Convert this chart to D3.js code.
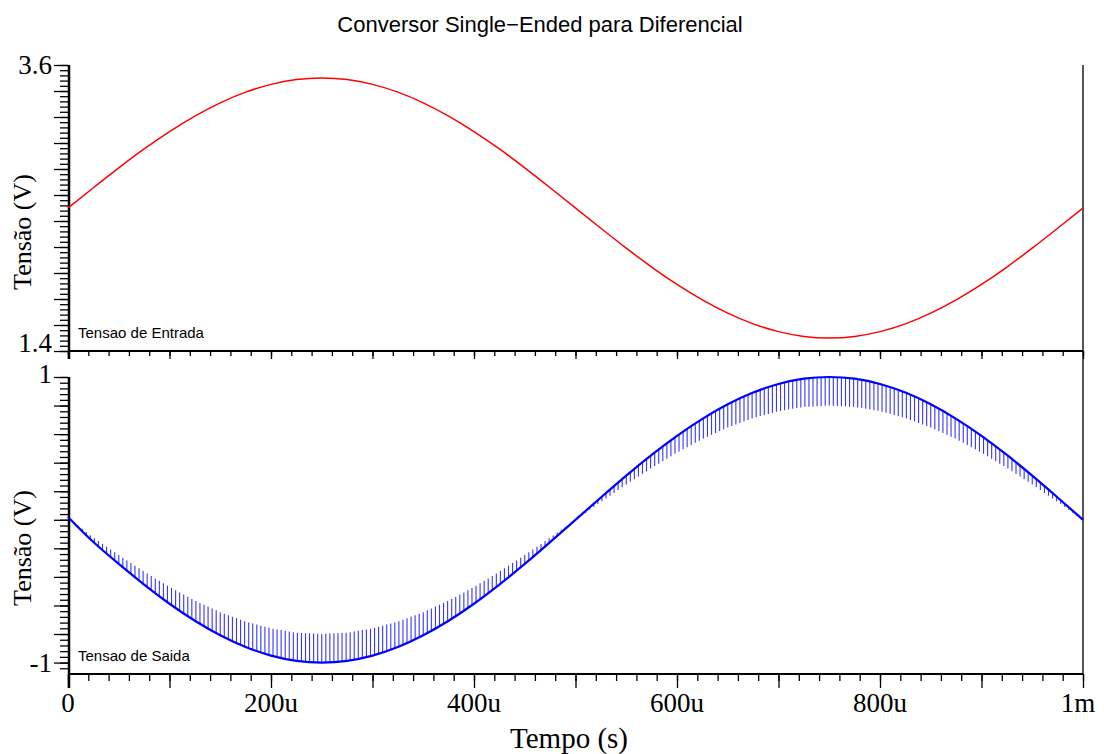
<!DOCTYPE html>
<html>
<head>
<meta charset="utf-8">
<script src="https://cdn.jsdelivr.net/npm/d3@7"></script>
<style>
  html, body { margin: 0; padding: 0; background: #fff; }
  svg { display: block; }
</style>
</head>
<body>
<svg id="chart" width="1104" height="754"></svg>
<script>
// ---- data ----
const timeUs = [0,25,50,75,100,125,150,175,200,225,250,275,300,325,350,375,400,425,450,475,500,
                525,550,575,600,625,650,675,700,725,750,775,800,825,850,875,900,925,950,975,1000];
const inputVoltage = [2.500,2.656,2.809,2.954,3.088,3.207,3.309,3.391,3.451,3.488,3.500,3.488,3.451,3.391,3.309,3.207,3.088,2.954,2.809,2.656,2.500,
                      2.344,2.191,2.046,1.912,1.793,1.691,1.609,1.549,1.512,1.500,1.512,1.549,1.609,1.691,1.793,1.912,2.046,2.191,2.344,2.500];
const outputVoltage = [0.020,-0.156,-0.309,-0.454,-0.588,-0.707,-0.809,-0.891,-0.951,-0.988,-1.000,-0.988,-0.951,-0.891,-0.809,-0.707,-0.588,-0.454,-0.309,-0.156,0.000,
                       0.156,0.309,0.454,0.588,0.707,0.809,0.891,0.951,0.988,1.000,0.988,0.951,0.891,0.809,0.707,0.588,0.454,0.309,0.156,0.000];
const spikePeriodUs = 4;     // spacing of the switching glitches on the output
const spikeDepth = 0.2;      // glitch pulls output toward 0 by this fraction
const xTickValues = [0,200,400,600,800,1000];
const xTickLabels = ["0","200u","400u","600u","800u","1m"];
const topTickValues = [1.4,3.6];
const topTickLabels = ["1.4","3.6"];
const bottomTickValues = [-1,1];
const bottomTickLabels = ["-1","1"];
const titleText = "Conversor Single\u2212Ended para Diferencial";
const yLabel = "Tens\u00e3o (V)";
const xLabel = "Tempo (s)";
const topLegend = "Tensao de Entrada";
const bottomLegend = "Tensao de Saida";

// ---- layout ----
const svg = d3.select("#chart");
const x0 = 68, x1 = 1083;
const topY0 = 65, topY1 = 351;
const botY0 = 377, botY1 = 674;
const serif = "'Liberation Serif','Times New Roman',serif";
const sans = "'Liberation Sans',Arial,sans-serif";

const x = d3.scaleLinear().domain([0,1000]).range([x0,x1]);
const yTop = d3.scaleLinear().domain([1.4,3.6]).range([topY1,topY0]);
const yBot = d3.scaleLinear().domain([-1.08,1]).range([botY1,botY0]);

// title
svg.append("text").attr("x",540).attr("y",32).attr("text-anchor","middle")
  .attr("font-family",sans).attr("font-size",22).attr("fill","#000").text(titleText);

// right border
svg.append("line").attr("x1",x1).attr("x2",x1).attr("y1",topY0).attr("y2",botY1)
  .attr("stroke","#555").attr("stroke-width",2);

function styleAxis(g){
  g.select(".domain").remove();
  g.selectAll(".tick line").attr("stroke","#000").attr("stroke-width",1.3);
  g.selectAll(".tick text").remove();
}

// ---- top panel axes ----
const topMinor = d3.range(1.4, 3.6001, 0.04);
const topMajor = d3.range(1.4, 3.6001, 0.2);
svg.append("g").attr("transform",`translate(${x0},0)`)
  .call(d3.axisLeft(yTop).tickValues(topMinor).tickSize(8)).call(styleAxis);
svg.append("g").attr("transform",`translate(${x0},0)`)
  .call(d3.axisLeft(yTop).tickValues(topMajor).tickSize(14)).call(styleAxis);
const xMinor = d3.range(0,1000.1,20);
const xMajor = d3.range(0,1000.1,100);
svg.append("g").attr("transform",`translate(0,${topY1})`)
  .call(d3.axisBottom(x).tickValues(xMinor).tickSize(5)).call(styleAxis);
svg.append("g").attr("transform",`translate(0,${topY1})`)
  .call(d3.axisBottom(x).tickValues(xMajor).tickSize(8)).call(styleAxis);
svg.append("line").attr("x1",x0).attr("x2",x1).attr("y1",topY1).attr("y2",topY1)
  .attr("stroke","#000").attr("stroke-width",2.2);
svg.append("line").attr("x1",x0+1).attr("x2",x0+1).attr("y1",topY0).attr("y2",topY1+8)
  .attr("stroke","#000").attr("stroke-width",2.5);

// ---- bottom panel axes ----
const botMinor = d3.range(-1.08, 1.0001, 0.04).filter(v=>v>-1.079);
const botMajor = d3.range(-1, 1.0001, 0.2);
svg.append("g").attr("transform",`translate(${x0},0)`)
  .call(d3.axisLeft(yBot).tickValues(botMinor).tickSize(8)).call(styleAxis);
svg.append("g").attr("transform",`translate(${x0},0)`)
  .call(d3.axisLeft(yBot).tickValues(botMajor).tickSize(14)).call(styleAxis);
svg.append("g").attr("transform",`translate(0,${botY1})`)
  .call(d3.axisBottom(x).tickValues(xMinor).tickSize(7)).call(styleAxis);
svg.append("g").attr("transform",`translate(0,${botY1})`)
  .call(d3.axisBottom(x).tickValues(xMajor).tickSize(14)).call(styleAxis);
svg.append("line").attr("x1",x0).attr("x2",x1).attr("y1",botY1).attr("y2",botY1)
  .attr("stroke","#000").attr("stroke-width",2.2);
svg.append("line").attr("x1",x0+1).attr("x2",x0+1).attr("y1",botY0).attr("y2",botY1+14)
  .attr("stroke","#000").attr("stroke-width",2.5);

// ---- tick labels ----
const tickFont = 27;
xTickValues.forEach((v,i)=>{
  let px = x(v);
  if (v === 1000) px -= 5;
  svg.append("text").attr("x",px).attr("y",712).attr("text-anchor","middle")
    .attr("font-family",serif).attr("font-size",tickFont).attr("fill","#000").text(xTickLabels[i]);
});
topTickValues.forEach((v,i)=>{
  const dy = v === 1.4 ? 1 : 9;
  svg.append("text").attr("x",52).attr("y",yTop(v)+dy).attr("text-anchor","end")
    .attr("font-family",serif).attr("font-size",tickFont).attr("fill","#000").text(topTickLabels[i]);
});
bottomTickValues.forEach((v,i)=>{
  const dy = v === 1 ? 6 : 9;
  svg.append("text").attr("x",52).attr("y",yBot(v)+dy).attr("text-anchor","end")
    .attr("font-family",serif).attr("font-size",tickFont).attr("fill","#000").text(bottomTickLabels[i]);
});

// axis titles
svg.append("text").attr("transform",`translate(31,232) rotate(-90)`)
  .attr("text-anchor","middle").attr("font-family",serif).attr("font-size",26).text(yLabel);
svg.append("text").attr("transform",`translate(31,548) rotate(-90)`)
  .attr("text-anchor","middle").attr("font-family",serif).attr("font-size",26).text(yLabel);
svg.append("text").attr("x",569).attr("y",748).attr("text-anchor","middle")
  .attr("font-family",serif).attr("font-size",29).text(xLabel);

// legends
svg.append("text").attr("x",78).attr("y",338).attr("font-family",sans).attr("font-size",15).text(topLegend);
svg.append("text").attr("x",78).attr("y",661).attr("font-family",sans).attr("font-size",15).text(bottomLegend);

// ---- series ----
const topData = timeUs.map((t,i)=>({t, v: inputVoltage[i]}));
const botData = timeUs.map((t,i)=>({t, v: outputVoltage[i]}));

svg.append("path").datum(topData)
  .attr("d", d3.line().x(d=>x(d.t)).y(d=>yTop(d.v)).curve(d3.curveNatural))
  .attr("fill","none").attr("stroke","#ff0000").attr("stroke-width",1.5);

// output glitches
const interp = t => {
  const i = Math.min(Math.floor(t/25), timeUs.length-2);
  const f = (t - timeUs[i]) / 25;
  return outputVoltage[i]*(1-f) + outputVoltage[i+1]*f;
};
const spikeTimes = d3.range(spikePeriodUs/2, 1000, spikePeriodUs);
svg.append("g").selectAll("line").data(spikeTimes).join("line")
  .attr("x1",t=>x(t)).attr("x2",t=>x(t))
  .attr("y1",t=>yBot(interp(t)))
  .attr("y2",t=>yBot(interp(t)*(1-spikeDepth)))
  .attr("stroke","#2020ff").attr("stroke-width",1.1).attr("opacity",0.9);

svg.append("path").datum(botData)
  .attr("d", d3.line().x(d=>x(d.t)).y(d=>yBot(d.v)).curve(d3.curveNatural))
  .attr("fill","none").attr("stroke","#0000ff").attr("stroke-width",2.2);
</script>
</body>
</html>
